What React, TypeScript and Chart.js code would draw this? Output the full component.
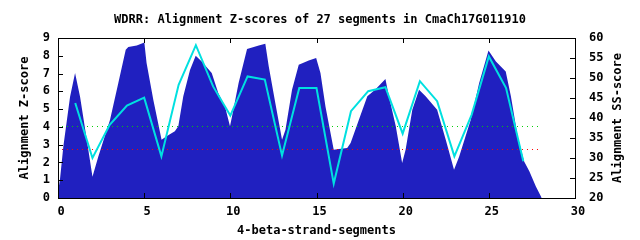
import React, { useEffect, useRef } from "react";
import { Chart, registerables } from "chart.js";

Chart.register(...registerables);

const TITLE = "WDRR: Alignment Z-scores of 27 segments in CmaCh17G011910";
const X_TITLE = "4-beta-strand-segments";
const Y_TITLE = "Alignment Z-score";
const Y2_TITLE = "Alignment SS-score";

// Z-score profile (filled area), left axis
const areaX = [0, 0.12, 0.31, 0.7, 0.99, 1.28, 1.67, 2.0, 2.34, 3.02, 3.5, 3.93, 4.08, 4.57, 5.01, 5.14, 5.53, 6.01, 6.3, 6.78, 6.98, 7.27, 7.66, 7.99, 8.34, 8.92, 9.3, 9.69, 9.98, 10.1, 10.48, 10.97, 11.65, 12.03, 12.23, 12.61, 13.0, 13.2, 13.58, 13.97, 14.55, 14.98, 15.23, 15.52, 16.0, 16.3, 16.78, 16.98, 17.46, 17.95, 18.4, 19.0, 19.2, 19.6, 19.97, 20.17, 20.56, 20.95, 21.33, 22.0, 22.5, 22.98, 23.28, 23.95, 24.44, 24.98, 25.41, 25.98, 26.28, 26.67, 27.05, 27.35, 27.73, 28.07];
const areaY = [0.3, 1.1, 2.9, 5.7, 7.03, 5.7, 3.28, 1.2, 2.34, 4.4, 6.47, 8.34, 8.49, 8.58, 8.75, 7.59, 5.53, 3.28, 3.47, 3.75, 4.03, 5.72, 7.2, 8.0, 7.68, 7.03, 5.9, 5.15, 4.03, 4.6, 6.47, 8.38, 8.58, 8.68, 7.4, 5.34, 3.28, 3.84, 6.09, 7.5, 7.74, 7.87, 7.03, 5.15, 2.72, 2.75, 2.81, 3.1, 4.4, 5.72, 6.09, 6.69, 5.72, 4.03, 1.97, 2.72, 4.97, 6.09, 5.72, 4.97, 3.28, 1.59, 2.34, 4.4, 6.47, 8.29, 7.68, 7.12, 5.72, 3.47, 2.06, 1.5, 0.65, 0];

// SS-score per segment, right axis
const segments = [1, 2, 3, 4, 5, 6, 7, 8, 9, 10, 11, 12, 13, 14, 15, 16, 17, 18, 19, 20, 21, 22, 23, 24, 25, 26, 27];
const ssScores = [43.75, 30.0, 38.3, 43.1, 45.1, 30.4, 48.3, 58.2, 47.9, 40.6, 50.4, 49.6, 30.6, 47.5, 47.5, 23.6, 41.7, 46.7, 47.7, 36.1, 49.2, 44.2, 30.4, 40.8, 55.4, 47.5, 29.2];

// threshold lines (left axis)
const thresholdX = [0.232, 28.0];
const greenLevel = 4.022;
const redLevel = 2.728;

const X_TICKS = [0, 5, 10, 15, 20, 25, 30];
const Y_TICKS = [0, 1, 2, 3, 4, 5, 6, 7, 8, 9];
const Y2_TICKS = [20, 25, 30, 35, 40, 45, 50, 55, 60];

const FONT_FAMILY = '"DejaVu Sans Mono", monospace';
const font = { family: FONT_FAMILY, size: 12, weight: "bold" as const };

const framePlugin = {
  id: "frame",
  afterDatasetsDraw(chart: any) {
    const { ctx, chartArea, scales } = chart;
    const { left, right, top, bottom } = chartArea;
    ctx.save();
    ctx.strokeStyle = "#000";
    ctx.lineWidth = 1;
    ctx.beginPath();
    for (const v of X_TICKS) {
      const px = Math.round(scales.x.getPixelForValue(v)) + 0.5;
      ctx.moveTo(px, bottom);
      ctx.lineTo(px, bottom - 5);
      ctx.moveTo(px, top);
      ctx.lineTo(px, top + 5);
    }
    for (const v of Y_TICKS) {
      const py = Math.round(scales.y.getPixelForValue(v)) + 0.5;
      ctx.moveTo(left, py);
      ctx.lineTo(left + 5, py);
    }
    for (const v of Y2_TICKS) {
      const py = Math.round(scales.y2.getPixelForValue(v)) + 0.5;
      ctx.moveTo(right, py);
      ctx.lineTo(right - 5, py);
    }
    ctx.stroke();
    ctx.strokeRect(left + 0.5, top + 0.5, right - left, bottom - top);
    // right axis title, reading bottom to top
    ctx.fillStyle = "#000";
    ctx.font = `bold 12px ${FONT_FAMILY}`;
    ctx.textAlign = "center";
    ctx.textBaseline = "middle";
    ctx.translate(right + 43, (top + bottom) / 2);
    ctx.rotate(-Math.PI / 2);
    ctx.fillText(Y2_TITLE, 0, 0);
    ctx.restore();
  },
};

export default function App() {
  const ref = useRef<HTMLCanvasElement>(null);
  useEffect(() => {
    if (!ref.current) return;
    const chart = new Chart(ref.current, {
      type: "line",
      data: {
        datasets: [
          {
            label: "SS",
            data: segments.map((s, i) => ({ x: s, y: ssScores[i] })),
            yAxisID: "y2",
            borderColor: "#00e0e0",
            borderWidth: 2,
            pointRadius: 0,
            fill: false,
            tension: 0,
            order: 1,
          },
          {
            label: "green",
            data: thresholdX.map((x) => ({ x, y: greenLevel })),
            yAxisID: "y",
            borderColor: "#00d000",
            borderWidth: 1,
            borderDash: [1, 4],
            borderCapStyle: "butt",
            pointRadius: 0,
            fill: false,
            order: 2,
          },
          {
            label: "red",
            data: thresholdX.map((x) => ({ x, y: redLevel })),
            yAxisID: "y",
            borderColor: "#ff0000",
            borderWidth: 1,
            borderDash: [1, 4],
            borderCapStyle: "butt",
            pointRadius: 0,
            fill: false,
            order: 2,
          },
          {
            label: "Z",
            data: areaX.map((x, i) => ({ x, y: areaY[i] })),
            yAxisID: "y",
            borderWidth: 0,
            borderColor: "rgba(0,0,0,0)",
            backgroundColor: "#2020c0",
            pointRadius: 0,
            fill: "origin",
            tension: 0,
            order: 3,
          },
        ],
      },
      options: {
        animation: false,
        responsive: false,
        devicePixelRatio: 1,
        layout: { padding: 0 },
        plugins: {
          legend: { display: false },
          tooltip: { enabled: false },
          title: {
            display: true,
            text: TITLE,
            color: "#000",
            font,
            padding: { top: 13, bottom: 10.6 },
          },
        },
        scales: {
          x: {
            type: "linear",
            min: 0,
            max: 30,
            grid: { display: false, drawTicks: false },
            border: { display: false },
            ticks: { stepSize: 5, color: "#000", font, padding: 6.7, labelOffset: 3, maxRotation: 0 },
            title: { display: true, text: X_TITLE, color: "#000", font, padding: { top: 0, bottom: 1.5 } },
            afterFit: (s: any) => { s.height = 42; },
          },
          y: {
            position: "left",
            min: 0,
            max: 9,
            grid: { display: false, drawTicks: false },
            border: { display: false },
            ticks: { stepSize: 1, color: "#000", font, padding: 8 },
            title: { display: true, text: Y_TITLE, color: "#000", font, padding: { top: 17.3, bottom: 0 } },
            afterFit: (s: any) => { s.width = 58; },
          },
          y2: {
            position: "right",
            min: 20,
            max: 60,
            grid: { display: false, drawTicks: false },
            border: { display: false },
            ticks: { stepSize: 5, color: "#000", font, padding: 14 },
            afterFit: (s: any) => { s.width = 65; },
          },
        },
      },
      plugins: [framePlugin],
    });
    return () => chart.destroy();
  }, []);
  return (
    <div style={{ position: "fixed", left: 0, top: 0, width: 640, height: 240, background: "#fff" }}>
      <canvas ref={ref} width={640} height={240} />
    </div>
  );
}
